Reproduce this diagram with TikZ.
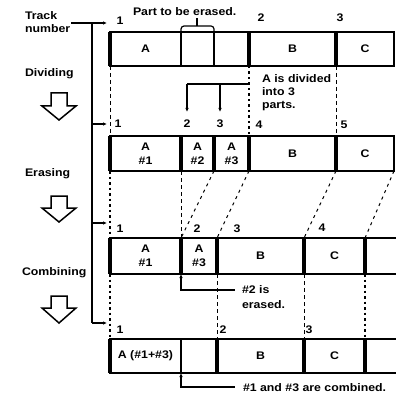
\documentclass[tikz,border=0pt]{standalone}
\usepackage{fontspec}
\setmainfont{Liberation Sans}[FakeStretch=1.12]
\usetikzlibrary{arrows.meta}
\begin{document}
\begin{tikzpicture}[x=1pt,y=-1pt,
  every node/.style={font=\bfseries\fontsize{11}{14}\selectfont, inner sep=0pt, outer sep=0pt},
  cell/.style={draw, line width=1.2pt, anchor=north west, minimum height=#1, align=center},
  cell/.default=34pt,
  opencell/.style={anchor=north west, minimum height=#1},
  opencell/.default=34pt,
  thickdiv/.style={line width=3.2pt},
  conn/.style={line width=1.2pt},
  arr/.style={conn, -{Latex[length=4pt,width=3.5pt]}},
  dashline/.style={line width=1pt, dash pattern=on 4pt off 3pt},
  dotline/.style={line width=1.6pt, dash pattern=on 2.5pt off 3pt},
  num/.style={anchor=base},
  lbl/.style={anchor=base west, align=left},
  hollow/.style={line width=1.5pt, line join=miter}
]
\path[use as bounding box, fill=white] (0,0) rectangle (396,398);

% ---------- left labels ----------
\node[lbl] (track) at (25,20) {Track};
\node[lbl] (number) at (25,33) {number};
\node[lbl] (dividing) at (25,77) {Dividing};
\node[lbl] (erasing) at (25,176) {Erasing};
\node[lbl] (combining) at (22,275) {Combining};

% hollow arrows
\draw[hollow] (51,93) -- (67,93) -- (67,106) -- (76,106) -- (59,120) -- (42,106) -- (51,106) -- cycle;
\draw[hollow] (51,196) -- (67,196) -- (67,208) -- (76,208) -- (59,222) -- (42,208) -- (51,208) -- cycle;
\draw[hollow] (51,296) -- (67,296) -- (67,308) -- (76,308) -- (59,323) -- (42,308) -- (51,308) -- cycle;

% spine
\coordinate (s0) at (71,23);
\coordinate (sp0) at (92,23);
\coordinate (sp1) at (92,124);
\coordinate (sp2) at (92,223);
\coordinate (sp3) at (92,323);
\coordinate (t0) at (107,23);
\coordinate (t1) at (107,124);
\coordinate (t2) at (107,223);
\coordinate (t3) at (107,323);
\draw[conn] (sp0) -- (sp3);
\draw[arr] (s0) -- (t0);
\draw[arr] (sp1) -- (t1);
\draw[arr] (sp2) -- (t2);
\draw[arr] (sp3) -- (t3);

% ---------- row 1 ----------
\node[cell, minimum width=71pt] (r1a) at (110,32) {A};
\node[cell, minimum width=33pt] (r1b) at (181,32) {};
\node[cell, minimum width=35pt] (r1c) at (214,32) {};
\node[cell, minimum width=87pt] (r1d) at (249,32) {B};
\node[cell, minimum width=58pt] (r1e) at (336,32) {C};
\draw[thickdiv] (r1a.north west) -- (r1a.south west);
\draw[thickdiv] (r1d.north west) -- (r1d.south west);
\draw[thickdiv] (r1e.north west) -- (r1e.south west);

\node[num] (n11) at (120,25) {1};
\node[num] (n12) at (261,22) {2};
\node[num] (n13) at (340,22) {3};

\node[lbl] (part) at (133,16) {Part to be erased.};
\draw[conn, rounded corners=3pt] (r1b.north west) -- (181,26) -- (214,26) -- (r1b.north east);
\draw[conn] (197,26) -- (197,18);

% ---------- row 2 ----------
\node[cell=35pt, minimum width=71pt] (r2a) at (110,136) {A\\\#1};
\node[cell=35pt, minimum width=33pt] (r2b) at (181,136) {A\\\#2};
\node[cell=35pt, minimum width=35pt] (r2c) at (214,136) {A\\\#3};
\node[cell=35pt, minimum width=87pt] (r2d) at (249,136) {B};
\node[cell=35pt, minimum width=58pt] (r2e) at (336,136) {C};
\foreach \c in {r2a,r2b,r2c,r2d,r2e}{\draw[thickdiv] (\c.north west) -- (\c.south west);}

\node[num] (n21) at (118,128) {1};
\node[num] (n22) at (187,128) {2};
\node[num] (n23) at (220,128) {3};
\node[num] (n24) at (259,129) {4};
\node[num] (n25) at (344,129) {5};

% division annotation
\coordinate (d1) at (187,84);
\coordinate (d2) at (248,84);
\coordinate (d3) at (220,84);
\coordinate (e1) at (187,112);
\coordinate (e3) at (220,112);
\draw[conn] (d2) -- (d1);
\draw[arr] (d1) -- (e1);
\draw[arr] (d3) -- (e3);
\node[lbl, font=\bfseries\fontsize{11}{13}\selectfont] (divtxt) at (262,109) {A is divided\\into 3\\parts.};

% row1 -> row2 guides
\draw[dashline] (r1a.south west) -- (r2a.north west);
\draw[dotline] (r1d.south west) -- (r2d.north west);
\draw[dashline] (r1e.south west) -- (r2e.north west);

% ---------- row 3 ----------
\node[cell=36pt, minimum width=71pt] (r3a) at (110,238) {A\\\#1};
\node[cell=36pt, minimum width=36pt] (r3b) at (181,238) {A\\\#3};
\node[cell=36pt, minimum width=87pt] (r3c) at (217,238) {B};
\node[cell=36pt, minimum width=61pt] (r3d) at (304,238) {C};
\node[opencell=36pt, minimum width=31pt] (r3e) at (365,238) {};
\draw[conn] (r3e.north west) -- (r3e.north east) (r3e.south west) -- (r3e.south east);
\foreach \c in {r3a,r3b,r3c,r3d,r3e}{\draw[thickdiv] (\c.north west) -- (\c.south west);}

\node[num] (n31) at (120,232) {1};
\node[num] (n32) at (197,232) {2};
\node[num] (n33) at (237,232) {3};
\node[num] (n34) at (322,231) {4};

% row2 -> row3 guides
\draw[dotline] (r2a.south west) -- (r3a.north west);
\draw[dashline] (r2a.south east) -- (r3a.north east);
\draw[dashline, dash pattern=on 3pt off 4pt] (r2c.south west) -- (r3b.north west);
\draw[dashline, dash pattern=on 3pt off 4pt] (r2c.south east) -- (r3b.north east);
\draw[dashline, dash pattern=on 3pt off 4pt] (r2d.south east) -- (r3c.north east);
\draw[dashline, dash pattern=on 3pt off 4pt] (r2e.south east) -- (r3d.north east);

% erased annotation
\coordinate (er) at (235,290);
\draw[conn, {Latex[length=4pt,width=3.5pt]}-] (r3a.south east) |- (er);
\node[lbl, font=\bfseries\fontsize{11}{15}\selectfont] (ertxt) at (242,308) {\#2 is\\erased.};

% ---------- row 4 ----------
\node[cell=34pt, minimum width=71pt] (r4a) at (110,339) {A (\#1+\#3)};
\node[cell=34pt, minimum width=36pt] (r4b) at (181,339) {};
\node[cell=34pt, minimum width=87pt] (r4c) at (217,339) {B};
\node[cell=34pt, minimum width=61pt] (r4d) at (304,339) {C};
\node[opencell=34pt, minimum width=31pt] (r4e) at (365,339) {};
\draw[conn] (r4e.north west) -- (r4e.north east) (r4e.south west) -- (r4e.south east);
\foreach \c in {r4a,r4c,r4d,r4e}{\draw[thickdiv] (\c.north west) -- (\c.south west);}

\node[num] (n41) at (120,333) {1};
\node[num] (n42) at (223,333) {2};
\node[num] (n43) at (309,333) {3};

% row3 -> row4 guides
\draw[dotline] (r3a.south west) -- (r4a.north west);
\draw[dashline] (r3c.south west) -- (r4c.north west);
\draw[dashline] (r3d.south west) -- (r4d.north west);
\draw[dotline] (r3d.south east) -- (r4d.north east);

% combined annotation
\coordinate (cb) at (235,387);
\draw[conn, {Latex[length=4pt,width=3.5pt]}-] (r4a.south east) |- (cb);
\node[lbl] (cbtxt) at (243,391) {\#1 and \#3 are combined.};
\end{tikzpicture}
\end{document}
